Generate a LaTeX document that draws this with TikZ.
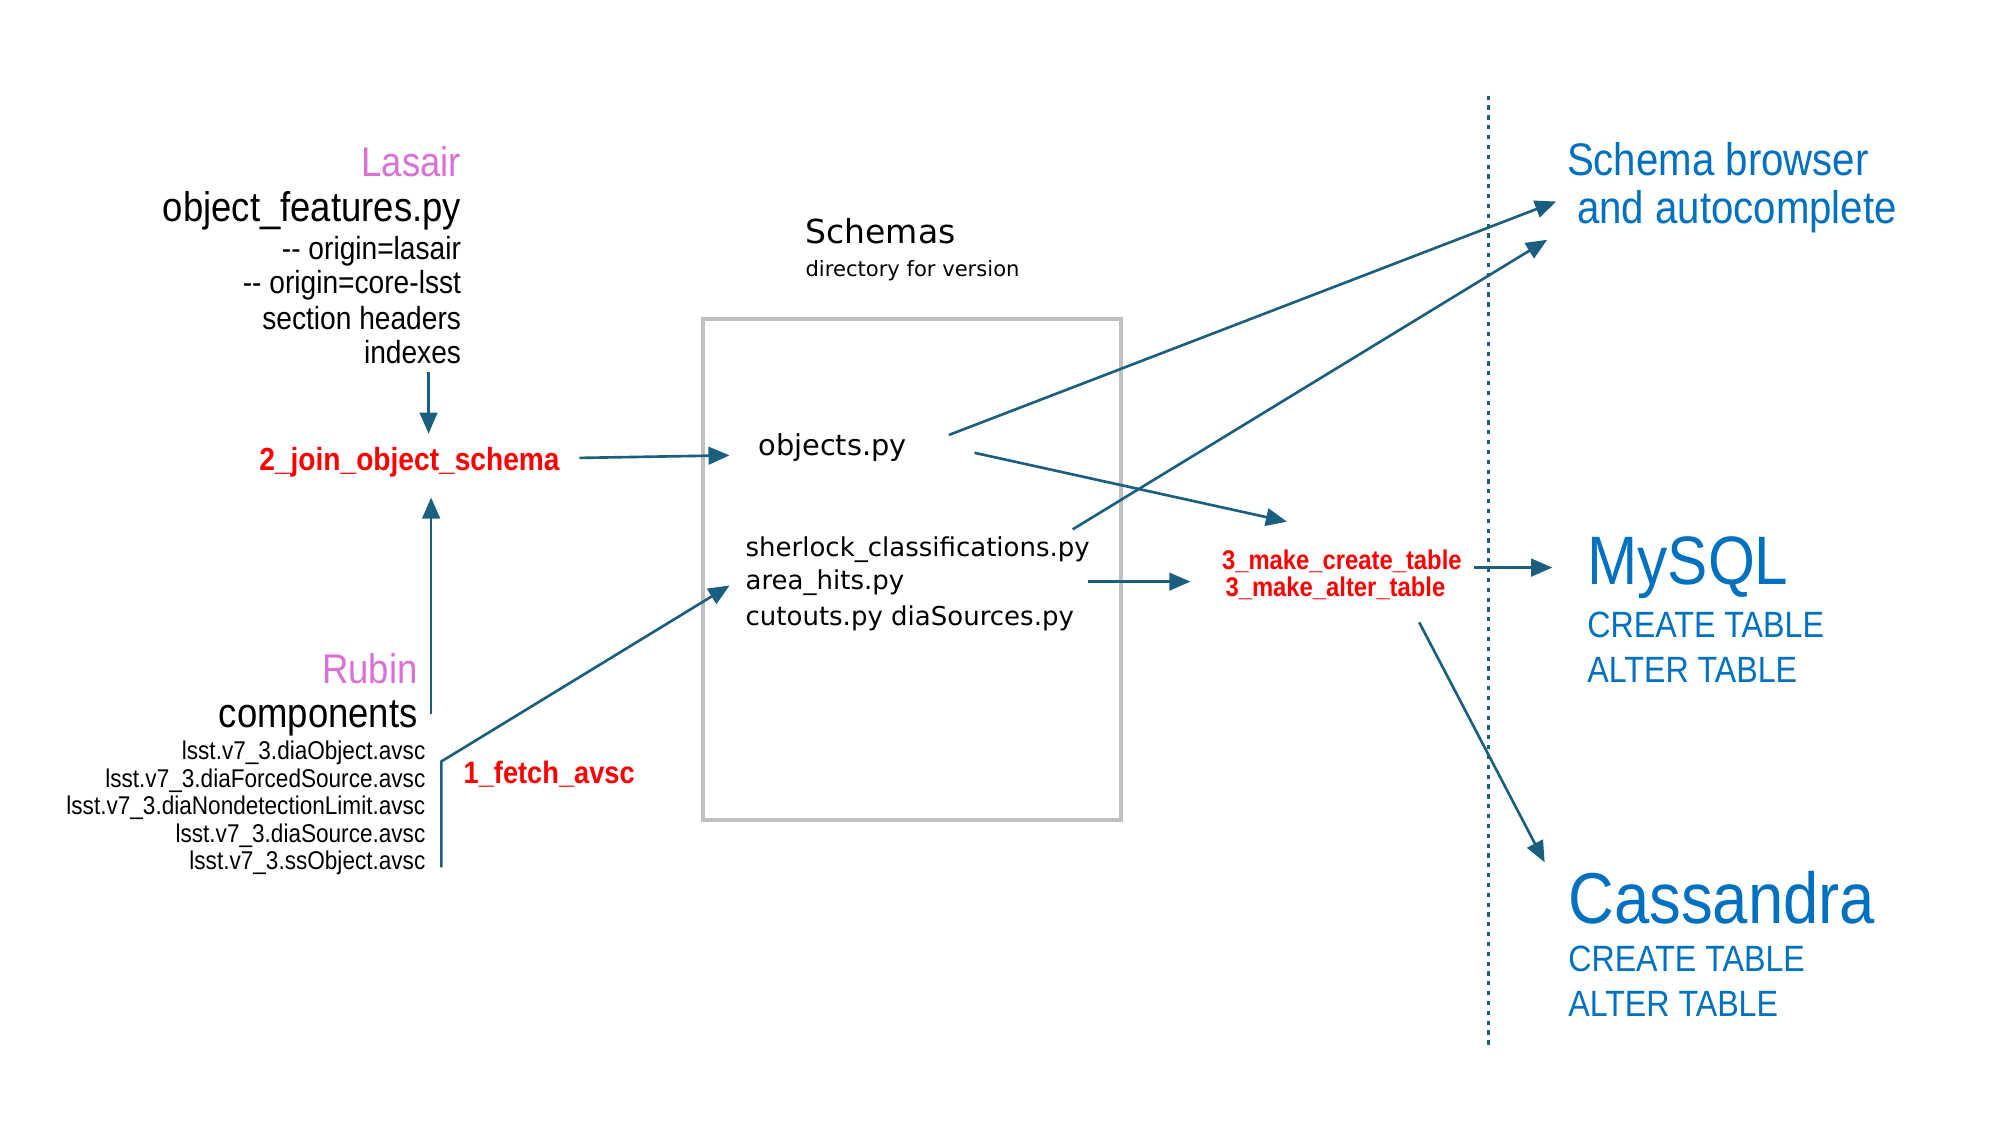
\documentclass[tikz,border=0pt]{standalone}
\usepackage{fontspec}
\setmainfont{Liberation Sans}
\newfontfamily\narrowfont[FakeStretch=0.88]{Liberation Sans}
\newfontfamily\widefont{DejaVu Sans}
\usetikzlibrary{arrows.meta,calc}
\definecolor{arrowteal}{RGB}{26,94,128}
\definecolor{lasairpink}{RGB}{218,112,214}
\definecolor{dbblue}{RGB}{0,112,192}
\definecolor{boxgrey}{RGB}{191,191,191}
\newcommand{\fs}[1]{\fontsize{#1}{#1}\selectfont}

\begin{document}
\begin{tikzpicture}[x=0.012755cm, y=-0.012755cm,
  every node/.style={inner sep=0pt},
  txt/.style={font={\narrowfont\fs{#1}}},
  wide/.style={font={\widefont\fs{#1}}},
  script/.style={text=red, font={\narrowfont\bfseries\fs{#1}}},
  db/.style={text=dbblue, font={\narrowfont\fs{#1}}},
  arr/.style={draw=arrowteal, line width=0.75pt, -{Triangle[length=6pt,width=5pt]}}]
\useasboundingbox (0,0) rectangle (1568,882);

% Lasair
\node[txt=11.8, text=lasairpink, anchor=east] (lasair) at (362,127) {Lasair};
\node[txt=11.8, anchor=east] (objfeat) at (362,165) {object\_features.py};
\node[txt=9.1, anchor=east] (orilasair) at (362,197) {{-}{-} origin=lasair};
\node[txt=9.1, anchor=east] (oricore) at (362,224) {{-}{-} origin=core-lsst};
\node[txt=9.1, anchor=east] (headers) at (362,249) {section headers};
\node[txt=9.1, anchor=east] (indexes) at (362,276) {indexes};
\node[script=9.1] (join) at (321,362) {2\_join\_object\_schema};

% Rubin
\node[txt=11.8, text=lasairpink, anchor=east] (rubin) at (328,524) {Rubin};
\node[txt=11.8, anchor=east] (comps) at (328,563) {components};
\foreach \f [count=\i] in {diaObject,diaForcedSource,diaNondetectionLimit,diaSource,ssObject}
  \node[txt=7.3, anchor=east] (avsc\i) at (334,569+21.5*\i) {lsst.v7\_3.\f.avsc};
\node[script=8.8, anchor=west] (fetch) at (363,607) {1\_fetch\_avsc};

% schemas
\node[wide=9.4, anchor=west] (schemas) at (631,181) {Schemas};
\node[wide=6, anchor=west] (dirver) at (631,212) {directory for version};
\draw[boxgrey, line width=1pt] (551,250) rectangle (879,643);
\node[wide=8.2, anchor=west] (objects) at (594,351) {objects.py};
\node[wide=7.4, anchor=west] (sherlock) at (584,431) {sherlock\_classifications.py};
\node[wide=7.4, anchor=west] (areahits) at (584,457) {area\_hits.py};
\node[wide=7.4, anchor=west] (cutouts) at (584,485) {cutouts.py diaSources.py};

\node[script=7.7] (create) at (1052,440) {3\_make\_create\_table};
\node[script=7.7] (alter) at (1047,461) {3\_make\_alter\_table};

% targets
\draw[arrowteal, line width=0.8pt, dash pattern=on 1.2pt off 1.6pt] (1167,75) -- (1167,822);
\node[db=13, anchor=west] (browser) at (1228,125) {Schema browser};
\node[db=13, anchor=west] (autocomp) at (1236,166) {and autocomplete};
\node[db=19.5, anchor=west] (mysql) at (1244,445) {MySQL};
\node[db=10.4, anchor=west] (mycreate) at (1244,490) {CREATE TABLE};
\node[db=10.4, anchor=west] (myalter) at (1244,525) {ALTER TABLE};
\node[db=20.5, anchor=west] (cass) at (1229,704) {Cassandra};
\node[db=10.4, anchor=west] (cascreate) at (1229,752) {CREATE TABLE};
\node[db=10.4, anchor=west] (casalter) at (1229,787) {ALTER TABLE};

\draw[arr] ($(indexes.east)+(-26,16)$) -- ($(join)+(15,-22)$);
\draw[arr] ($(join.east)+(15,-3)$) -- ($(objects.west)+(-22,6)$);
\draw[arr] ($(comps.east)+(10,-3)$) -- ($(join)+(17,28)$);
\draw[arr] ($(avsc5.east)+(12,3.5)$) -- ($(avsc1.east)+(12,6.5)$) -- ($(areahits.west)+(-12,2)$);
\draw[arr] ($(objects.west)+(150,-10)$) -- ($(autocomp.west)+(-16,-8)$);
\draw[arr] ($(objects.west)+(170,4)$) -- ($(create)+(-43,-31)$);
\draw[arr] ($(sherlock.west)+(257,-16)$) -- ($(autocomp.west)+(-23,22)$);
\draw[arr] ($(areahits.west)+(269,-1)$) -- ($(alter.west)+(-27,-5)$);
\draw[arr] ($(create.east)+(9,5)$) -- ($(mysql.west)+(-27,0)$);
\draw[arr] ($(alter.east)+(-21,27)$) -- ($(cass.west)+(-18,-28)$);
\end{tikzpicture}
\end{document}
